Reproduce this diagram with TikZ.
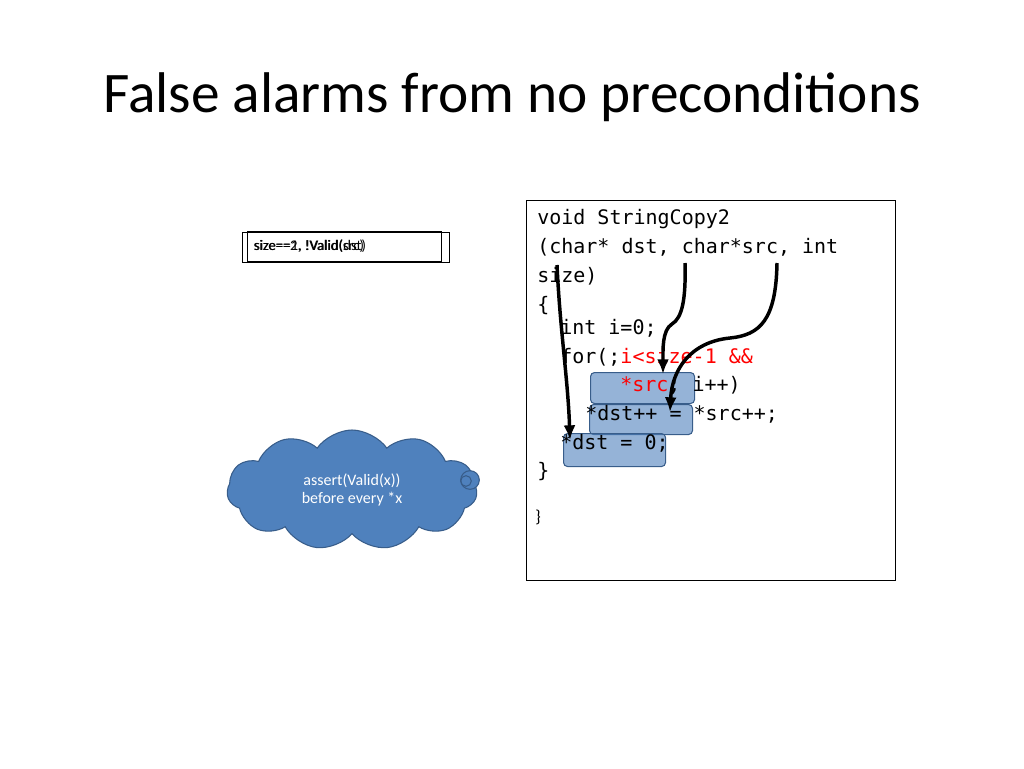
\documentclass[tikz,border=0pt]{standalone}
\usepackage{fontspec}
\setmainfont{Carlito}
\setmonofont{DejaVu Sans Mono}
\usetikzlibrary{shapes.symbols,positioning}
\definecolor{cloudblue}{HTML}{4F81BD}
\definecolor{clouddark}{HTML}{385D8A}
\tikzset{
  code/.style={anchor=base west, inner sep=0pt, font=\ttfamily\fontsize{15}{15}\selectfont},
  hlbox/.style={draw=clouddark, thick, fill=cloudblue, fill opacity=0.6, rounded corners=3pt},
  flow/.style={line width=2.6pt, -{Latex[length=11pt,width=9pt]}},
  condbox/.style={draw, inner sep=0pt, minimum height=30pt*0.75, font=\fontsize{11}{11}\selectfont}
}
\usetikzlibrary{arrows.meta}
\begin{document}
\begin{tikzpicture}[x=0.75pt, y=-0.75pt]
  \useasboundingbox (0,0) rectangle (1024,768);

  \node (title) at (512,97) {\fontsize{43}{43}\selectfont False alarms from no preconditions};

  % code panel
  \draw (526,200) rectangle (895,580);
  \node[hlbox, minimum width=104*0.75pt, minimum height=31*0.75pt, anchor=north west] (b1) at (590,372) {};
  \node[hlbox, minimum width=103*0.75pt, minimum height=30*0.75pt, anchor=north west] (b2) at (589,404) {};
  \node[hlbox, minimum width=102*0.75pt, minimum height=33*0.75pt, anchor=north west] (b3) at (563,433) {};

  \node[code] (l1) at (537,224) {void StringCopy2};
  \node[code] (l2) at (537,253) {(char* dst, char*src, int};
  \node[code] (l3) at (537,282) {size)};
  \node[code] (l4) at (537,311) {\{};
  \node[code] (l5) at (560,334) {int i=0;};
  \node[code] (l6) at (560,363) {for(;\textcolor{red}{i<size-1 \&\&}};
  \node[code] (l7) at (620,391) {\textcolor{red}{*src}; i++)};
  \node[code] (l8) at (585,420) {*dst++ = *src++;};
  \node[code] (l9) at (560,449) {*dst = 0;};
  \node[code] (l10) at (537,477) {\}};
  \node[anchor=base west, inner sep=0pt, font=\fontsize{13}{13}\selectfont] (l11) at (535,522) {\}};

  % pointer flows
  \coordinate (s1) at (557,265);
  \coordinate (s2) at (685,263);
  \coordinate (s3) at (777,263);
  \draw[flow] (s1) .. controls (560,330) and (568,380) .. (570,440);
  \draw[flow] (s2) .. controls (686,300) and (682,318) .. (672,324)
    .. controls (662,330) and (663,350) .. (663,374);
  \draw[flow] (s3) .. controls (776,320) and (760,335) .. (730,338)
    .. controls (690,342) and (672,370) .. (670,412);

  % conditions
  \node[condbox, minimum width=207*0.75pt] (c2) at (345.5,247.5) {};
  \node[condbox, minimum width=194*0.75pt, anchor=west, label={[font=\fontsize{11}{11}\selectfont, anchor=west, xshift=1.5pt]west:size==2, !Valid(src)}] (c1) at (247,246.5) {};
  \node[anchor=west, font=\fontsize{11}{11}\selectfont, xshift=2pt] (t1) at (247,246.5) {size==1, !Valid(dst)};

  % cloud
  \node[cloud, cloud puffs=11, cloud puff arc=110, aspect=2.1, draw=clouddark, thick,
        fill=cloudblue, minimum width=250*0.75pt, minimum height=120*0.75pt,
        text=white, align=center, font=\fontsize{12}{14}\selectfont] (cloud) at (352,490)
        {assert(Valid(x))\\before every *x};
  \draw[clouddark, thick, fill=cloudblue] (470,480) circle (7pt);
  \draw[clouddark, thick] (466,481) circle (4pt);
\end{tikzpicture}
\end{document}
